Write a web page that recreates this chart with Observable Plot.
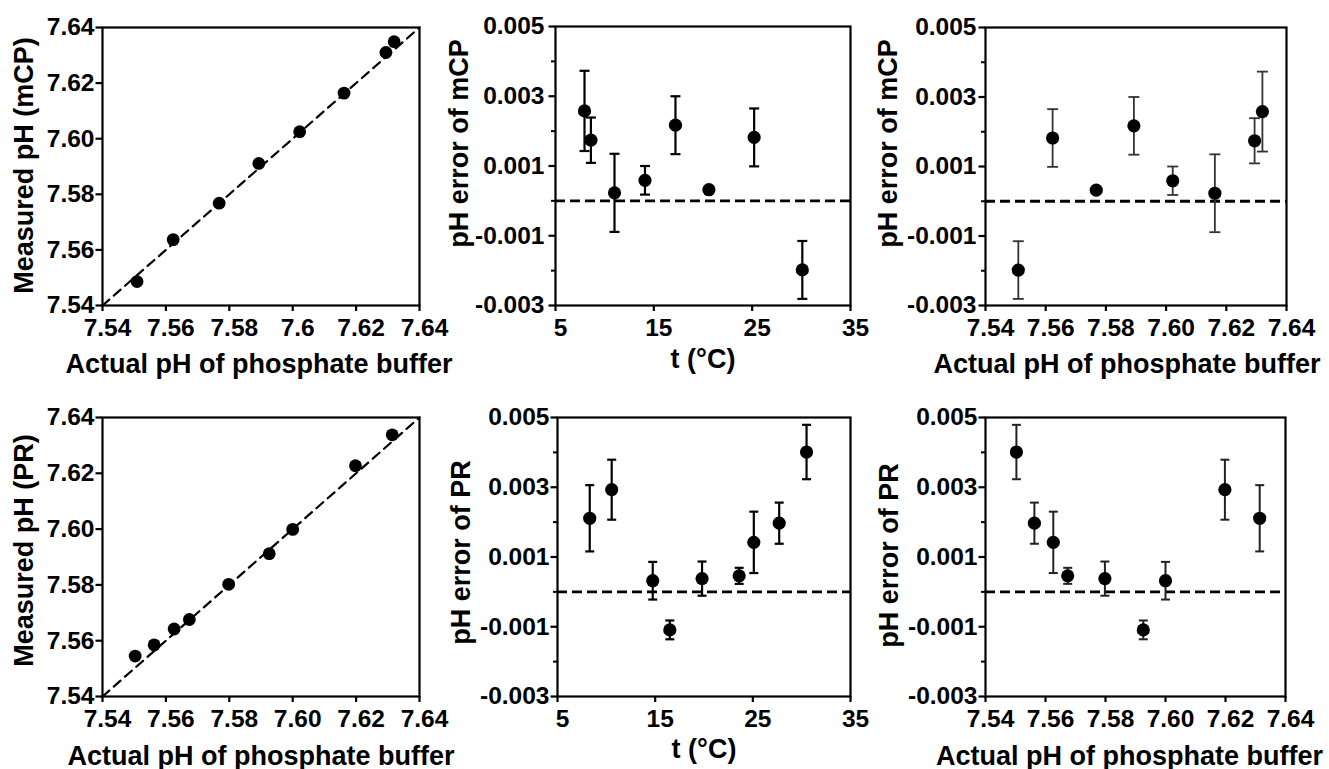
<!DOCTYPE html>
<html><head><meta charset="utf-8">
<script src="https://cdn.jsdelivr.net/npm/d3@7"></script>
<script src="https://cdn.jsdelivr.net/npm/@observablehq/plot@0.6"></script>
<style>
html,body{margin:0;padding:0;background:#fff;}
#chart{position:relative;width:1329px;height:769px;overflow:hidden;background:#fff;}
#chart svg{position:absolute;overflow:visible;}
</style></head><body><div id="chart"></div>
<script>
// ---- mCP data ----
const mcpActual   = [7.5509, 7.5623, 7.5768, 7.5893, 7.6022, 7.6162, 7.6294, 7.6320];
const mcpMeasured = [7.5486, 7.5637, 7.5768, 7.5911, 7.6025, 7.6164, 7.6310, 7.6349];
const mcpTemp     = [30.1, 25.2, 20.6, 17.2, 14.1, 11.0, 8.6, 7.95];
const mcpError    = [-0.00198, 0.00182, 0.00032, 0.00217, 0.00059, 0.00023, 0.00174, 0.00258];
const mcpSD       = [0.00083, 0.00083, 0.00004, 0.00083, 0.00041, 0.00112, 0.00065, 0.00115];
// ---- PR data ----
const prActual   = [7.5503, 7.5563, 7.5626, 7.5674, 7.5798, 7.5926, 7.6000, 7.6198, 7.6314];
const prMeasured = [7.5545, 7.5585, 7.5642, 7.5676, 7.5802, 7.5912, 7.5999, 7.6227, 7.6338];
const prTemp     = [30.5, 27.7, 25.1, 23.6, 19.8, 16.5, 14.75, 10.55, 8.3];
const prError    = [0.00401, 0.00197, 0.00142, 0.00046, 0.00038, -0.00109, 0.00032, 0.00293, 0.00211];
const prSD       = [0.00078, 0.00059, 0.00088, 0.00023, 0.00049, 0.00027, 0.00054, 0.00086, 0.00095];
// ---- ticks / labels ----
const pHTicks = [7.54, 7.56, 7.58, 7.60, 7.62, 7.64];
const pHTickLabelsShort = ["7.54", "7.56", "7.58", "7.6", "7.62", "7.64"];
const pHTickLabels = ["7.54", "7.56", "7.58", "7.60", "7.62", "7.64"];
const pHDomain = [7.54, 7.64];
const tTicks = [5, 15, 25, 35];
const tTickLabels = ["5", "15", "25", "35"];
const tDomain = [5, 35];
const errTicks = [-0.003, -0.001, 0.001, 0.003, 0.005];
const errTickLabels = ["-0.003", "-0.001", "0.001", "0.003", "0.005"];
const errMinorTicks = [-0.002, 0, 0.002, 0.004];
const errDomain = [-0.003, 0.005];
const zeroLine = [0];
const identityLine = [7.54, 7.64];
const titleActual = "Actual pH of phosphate buffer";
const titleT = "t (°C)";
const titleMeasMCP = "Measured pH (mCP)";
const titleMeasPR = "Measured pH (PR)";
const titleErrMCP = "pH error of mCP";
const titleErrPR = "pH error of PR";

const FONT = "'Liberation Sans', Arial, Helvetica, sans-serif";

function labeler(ticks, labels) {
  return d => {
    let best = 0;
    ticks.forEach((t, i) => { if (Math.abs(t - d) < Math.abs(ticks[best] - d)) best = i; });
    return labels[best];
  };
}
function capSymbol(hw) {
  return {draw(ctx) { ctx.moveTo(-hw, 0); ctx.lineTo(hw, 0); }};
}
function errorMarks(xs, ys, sd, {color, sw, hw}) {
  const idx = d3.range(xs.length);
  return [
    Plot.ruleX(idx, {x: i => xs[i], y1: i => ys[i] - sd[i], y2: i => ys[i] + sd[i], stroke: color, strokeWidth: sw}),
    Plot.dot(idx, {x: i => xs[i], y: i => ys[i] + sd[i], symbol: capSymbol(hw), r: 5, stroke: color, strokeWidth: sw, fill: "none"}),
    Plot.dot(idx, {x: i => xs[i], y: i => ys[i] - sd[i], symbol: capSymbol(hw), r: 5, stroke: color, strokeWidth: sw, fill: "none"}),
    Plot.dot(idx, {x: i => xs[i], y: i => ys[i], r: 6.6, fill: "black"})
  ];
}

function makePanel(c) {
  const svg = Plot.plot({
    width: c.width, height: c.height,
    marginLeft: c.ml, marginRight: c.mr, marginTop: c.mt, marginBottom: c.mb,
    style: {fontFamily: FONT, fontWeight: "bold", fontSize: "24px", color: "black", background: "transparent", overflow: "visible"},
    x: {type: "linear", domain: c.xDomain},
    y: {type: "linear", domain: c.yDomain},
    marks: [
      ...c.marks,
      Plot.frame({stroke: "black", strokeWidth: 2.2}),
      Plot.axisY({ticks: c.yTicks, text: null, tickSize: 6.5, strokeWidth: 2.2, label: null}),
      c.yMinor ? Plot.axisY({ticks: c.yMinor, text: null, tickSize: 4, strokeWidth: 2, label: null}) : null,
      Plot.axisY({ticks: c.yTicks, tickSize: 0, tickPadding: c.ypad, tickFormat: labeler(c.yTicks, c.yLabels), fontSize: 24.5, fontWeight: "bold", label: null}),
      Plot.axisX({ticks: c.xTicks, text: null, tickSize: 6, strokeWidth: 2.2, label: null}),
      Plot.axisX({ticks: c.xTicks, tickSize: 0, tickPadding: 13, dx: 5, tickFormat: labeler(c.xTicks, c.xLabels), fontSize: 24.5, fontWeight: "bold", label: null}),
      Plot.text([c.xTitle], {text: d => d, frameAnchor: "bottom", textAnchor: "middle", lineAnchor: "bottom", dx: c.xtdx, dy: c.xtdy, fontSize: 27, fontWeight: "bold", fill: "black"}),
      Plot.text([c.yTitle], {text: d => d, frameAnchor: "left", textAnchor: "middle", rotate: -90, lineAnchor: "middle", dx: c.ytdx, dy: c.ytdy, fontSize: 27, fontWeight: "bold", fill: "black"})
    ]
  });
  svg.style.position = "absolute";
  svg.style.left = c.left + "px";
  svg.style.top = c.top + "px";
  document.getElementById("chart").append(svg);
}

// Panel 1: measured (mCP) vs actual
makePanel({
  left: 0, top: 0, width: 440, height: 385, ml: 102, mr: 21, mt: 27, mb: 80, ypad: 8,
  xDomain: pHDomain, yDomain: pHDomain,
  xTicks: pHTicks, xLabels: pHTickLabelsShort, yTicks: pHTicks, yLabels: pHTickLabels,
  xTitle: titleActual, xtdx: -2, xtdy: 67, yTitle: titleMeasMCP, ytdx: -78.5, ytdy: -1,
  marks: [
    Plot.line(identityLine, {x: d => d, y: d => d, stroke: "black", strokeWidth: 2.2, strokeDasharray: "9,6"}),
    Plot.dot(d3.range(mcpActual.length), {x: i => mcpActual[i], y: i => mcpMeasured[i], r: 6.4, fill: "black"})
  ]
});
// Panel 2: mCP error vs t
makePanel({
  left: 440, top: 0, width: 440, height: 385, ml: 115, mr: 30, mt: 26, mb: 80, ypad: 11,
  xDomain: tDomain, yDomain: errDomain,
  xTicks: tTicks, xLabels: tTickLabels, yTicks: errTicks, yLabels: errTickLabels, yMinor: errMinorTicks,
  xTitle: titleT, xtdx: 0, xtdy: 62, yTitle: titleErrMCP, ytdx: -96.5, ytdy: -22.5,
  marks: [
    Plot.ruleY(zeroLine, {stroke: "black", strokeWidth: 2.8, strokeDasharray: "10,5"}),
    ...errorMarks(mcpTemp, mcpError, mcpSD, {color: "black", sw: 2.2, hw: 5})
  ]
});
// Panel 3: mCP error vs actual pH
makePanel({
  left: 880, top: 0, width: 449, height: 385, ml: 105, mr: 43, mt: 27, mb: 80, ypad: 9,
  xDomain: pHDomain, yDomain: errDomain,
  xTicks: pHTicks, xLabels: pHTickLabels, yTicks: errTicks, yLabels: errTickLabels, yMinor: errMinorTicks,
  xTitle: titleActual, xtdx: -9, xtdy: 67, yTitle: titleErrMCP, ytdx: -97, ytdy: -23,
  marks: [
    Plot.ruleY(zeroLine, {stroke: "black", strokeWidth: 2.8, strokeDasharray: "10,5"}),
    ...errorMarks(mcpActual, mcpError, mcpSD, {color: "#333", sw: 1.8, hw: 5.5})
  ]
});
// Panel 4: measured (PR) vs actual
makePanel({
  left: 0, top: 385, width: 440, height: 384, ml: 102, mr: 21, mt: 32, mb: 73, ypad: 8,
  xDomain: pHDomain, yDomain: pHDomain,
  xTicks: pHTicks, xLabels: pHTickLabels, yTicks: pHTicks, yLabels: pHTickLabels,
  xTitle: titleActual, xtdx: 0, xtdy: 68, yTitle: titleMeasPR, ytdx: -78.5, ytdy: -6.5,
  marks: [
    Plot.line(identityLine, {x: d => d, y: d => d, stroke: "black", strokeWidth: 2.2, strokeDasharray: "9,6"}),
    Plot.dot(d3.range(prActual.length), {x: i => prActual[i], y: i => prMeasured[i], r: 6.4, fill: "black"})
  ]
});
// Panel 5: PR error vs t
makePanel({
  left: 440, top: 385, width: 440, height: 384, ml: 117, mr: 30, mt: 32, mb: 73, ypad: 8,
  xDomain: tDomain, yDomain: errDomain,
  xTicks: tTicks, xLabels: tTickLabels, yTicks: errTicks, yLabels: errTickLabels, yMinor: errMinorTicks,
  xTitle: titleT, xtdx: 0, xtdy: 61, yTitle: titleErrPR, ytdx: -96, ytdy: -4.5,
  marks: [
    Plot.ruleY(zeroLine, {stroke: "black", strokeWidth: 2.8, strokeDasharray: "10,5"}),
    ...errorMarks(prTemp, prError, prSD, {color: "black", sw: 2.2, hw: 4.5})
  ]
});
// Panel 6: PR error vs actual pH
makePanel({
  left: 880, top: 385, width: 449, height: 384, ml: 105, mr: 44, mt: 32, mb: 73, ypad: 8,
  xDomain: pHDomain, yDomain: errDomain,
  xTicks: pHTicks, xLabels: pHTickLabels, yTicks: errTicks, yLabels: errTickLabels, yMinor: errMinorTicks,
  xTitle: titleActual, xtdx: -6, xtdy: 68, yTitle: titleErrPR, ytdx: -96.5, ytdy: -1.5,
  marks: [
    Plot.ruleY(zeroLine, {stroke: "black", strokeWidth: 2.8, strokeDasharray: "10,5"}),
    ...errorMarks(prActual, prError, prSD, {color: "#222", sw: 2, hw: 4.5})
  ]
});
</script></body></html>
